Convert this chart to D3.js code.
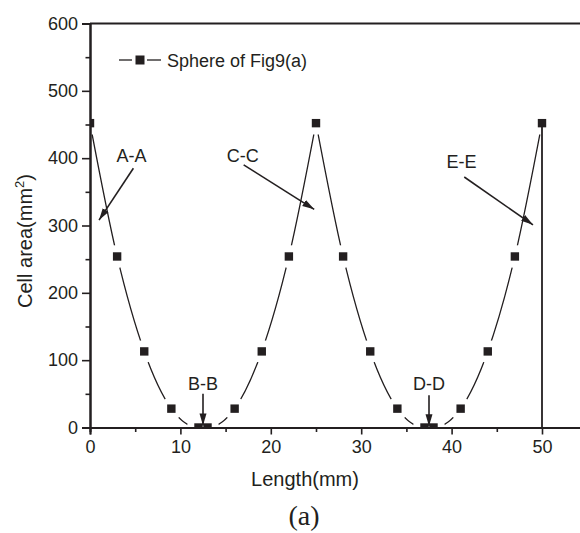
<!DOCTYPE html>
<html>
<head>
<meta charset="utf-8">
<script src="https://cdn.jsdelivr.net/npm/d3@7"></script>
<style>
  html, body { margin: 0; padding: 0; background: #fff; }
  svg { display: block; }
  text { font-family: "Liberation Sans", Arial, sans-serif; fill: #231f20; }
</style>
</head>
<body>
<svg id="chart" width="580" height="533"></svg>
<script>
// ---- data ----
const lengthMm = [0, 3, 6, 9, 12, 13, 16, 19, 22, 25, 28, 31, 34, 37, 38, 41, 44, 47, 50];
const cellArea = [452, 254, 113, 28, 0, 0, 28, 113, 254, 452, 254, 113, 28, 0, 0, 28, 113, 254, 452];
const seriesName = "Sphere of Fig9(a)";
const xTicks = [0, 10, 20, 30, 40, 50];
const yTicks = [0, 100, 200, 300, 400, 500, 600];
const annLabels = ["A-A", "B-B", "C-C", "D-D", "E-E"];
const annLabelX = [4.6, 12.5, 16.9, 37.5, 41.1];
const annLabelY = [395, 55, 395, 55, 386];
const annFromX = [4.8, 12.5, 17.0, 37.5, 41.4];
const annFromY = [385, 50, 390, 48, 372];
const annToX = [1.0, 12.5, 24.8, 37.5, 49.0];
const annToY = [308, 3, 324, 2, 301];

// ---- layout ----
const svg = d3.select("#chart");
const ink = "#231f20";
const x = d3.scaleLinear().domain([0, 55]).range([90, 587.2]);
const y = d3.scaleLinear().domain([0, 600]).range([427.5, 23.5]);

const defs = svg.append("defs");
defs.append("clipPath").attr("id", "plotClip")
  .append("rect").attr("x", x(0)).attr("y", y(600))
  .attr("width", x(55) - x(0)).attr("height", y(0) - y(600));
defs.append("marker").attr("id", "arrow")
  .attr("markerUnits", "userSpaceOnUse")
  .attr("viewBox", "0 0 12 8").attr("refX", 12).attr("refY", 4)
  .attr("markerWidth", 12).attr("markerHeight", 8)
  .attr("orient", "auto")
  .append("path").attr("d", "M0,0.5 L12,4 L0,7.5 Z").attr("fill", ink);

const pts = lengthMm.map((d, i) => ({ x: d, y: cellArea[i] }));
// split the curve at interior peaks so that each peak is a cusp
const peaks = [];
for (let i = 1; i < pts.length - 1; i++) {
  if (pts[i].y > pts[i - 1].y && pts[i].y > pts[i + 1].y) peaks.push(i);
}
const bounds = [0, ...peaks, pts.length - 1];
const segments = [];
for (let k = 0; k < bounds.length - 1; k++) segments.push(pts.slice(bounds[k], bounds[k + 1] + 1));

const plot = svg.append("g").attr("clip-path", "url(#plotClip)");
const line = d3.line().x(d => x(d.x)).y(d => y(d.y)).curve(d3.curveMonotoneX);
plot.selectAll("path.curve").data(segments).join("path")
  .attr("class", "curve")
  .attr("d", line).attr("fill", "none").attr("stroke", ink).attr("stroke-width", 1.3);
// gaps around symbols
plot.selectAll("circle.gap").data(pts).join("circle")
  .attr("class", "gap")
  .attr("cx", d => x(d.x)).attr("cy", d => y(d.y)).attr("r", 11.5).attr("fill", "#fff");

// drop line at last point
const last = pts[pts.length - 1];
svg.append("line")
  .attr("x1", x(last.x)).attr("x2", x(last.x))
  .attr("y1", y(last.y)).attr("y2", y(0))
  .attr("stroke", ink).attr("stroke-width", 1.8);

// ---- axes ----
const fontTick = 18;
const xAxis = svg.append("g").attr("transform", `translate(0,${y(0)})`);
xAxis.call(d3.axisBottom(x).tickValues(xTicks).tickSize(7).tickPadding(6).tickFormat(d3.format("d")));
const xMinor = svg.append("g").attr("transform", `translate(0,${y(0)})`);
xMinor.call(d3.axisBottom(x).tickValues([5, 15, 25, 35, 45]).tickSize(4.5).tickFormat(""));
const yAxis = svg.append("g").attr("transform", `translate(${x(0)},0)`);
yAxis.call(d3.axisLeft(y).tickValues(yTicks).tickSize(8).tickPadding(4).tickFormat(d3.format("d")));
const yMinor = svg.append("g").attr("transform", `translate(${x(0)},0)`);
yMinor.call(d3.axisLeft(y).tickValues([50, 150, 250, 350, 450, 550]).tickSize(4.5).tickFormat(""));
[xAxis, xMinor, yAxis, yMinor].forEach(g => {
  g.select(".domain").attr("stroke", ink).attr("stroke-width", 2);
  g.selectAll(".tick line").attr("stroke", ink).attr("stroke-width", 1.6);
  g.selectAll(".tick text").attr("font-size", fontTick)
    .attr("font-family", "Liberation Sans, Arial, sans-serif").attr("fill", ink);
});
// top frame
svg.append("line").attr("x1", x(0)).attr("x2", x(55)).attr("y1", y(600)).attr("y2", y(600))
  .attr("stroke", ink).attr("stroke-width", 2);

// ---- symbols ----
plot.selectAll("rect.sym").data(pts).join("rect")
  .attr("class", "sym")
  .attr("x", d => x(d.x) - 4.2).attr("y", d => y(d.y) - 4.2)
  .attr("width", 8.4).attr("height", 8.4).attr("fill", ink);

// ---- annotations ----
const ann = annLabels.map((t, i) => ({ t, lx: annLabelX[i], ly: annLabelY[i], fx: annFromX[i], fy: annFromY[i], tx: annToX[i], ty: annToY[i] }));
svg.selectAll("line.ann").data(ann).join("line")
  .attr("class", "ann")
  .attr("x1", d => x(d.fx)).attr("y1", d => y(d.fy))
  .attr("x2", d => x(d.tx)).attr("y2", d => y(d.ty))
  .attr("stroke", ink).attr("stroke-width", 1.6).attr("marker-end", "url(#arrow)");
svg.selectAll("text.ann").data(ann).join("text")
  .attr("class", "ann")
  .attr("x", d => x(d.lx)).attr("y", d => y(d.ly))
  .attr("text-anchor", "middle").attr("font-size", 18).text(d => d.t);

// ---- legend ----
const lg = svg.append("g").attr("transform", "translate(119,60)");
lg.append("line").attr("x1", 0).attr("x2", 13).attr("y1", 0).attr("y2", 0)
  .attr("stroke", ink).attr("stroke-width", 1.3);
lg.append("line").attr("x1", 28).attr("x2", 42).attr("y1", 0).attr("y2", 0)
  .attr("stroke", ink).attr("stroke-width", 1.3);
lg.append("rect").attr("x", 21 - 4.5).attr("y", -4.5).attr("width", 9).attr("height", 9)
  .attr("fill", ink);
lg.append("text").attr("x", 48).attr("y", 6.5).attr("font-size", 18).text(seriesName);

// ---- titles ----
svg.append("text").attr("x", 305).attr("y", 486).attr("text-anchor", "middle")
  .attr("font-size", 20).text("Length(mm)");
const yt = svg.append("text").attr("transform", "translate(32,241) rotate(-90)")
  .attr("text-anchor", "middle").attr("font-size", 20);
yt.append("tspan").text("Cell area(mm");
yt.append("tspan").attr("font-size", 13).attr("dy", -8).text("2");
yt.append("tspan").attr("dy", 8).text(")");
svg.append("text").attr("x", 304).attr("y", 525).attr("text-anchor", "middle")
  .style("font-family", "'Liberation Serif', 'Times New Roman', serif")
  .attr("font-size", 28).text("(a)");
</script>
</body>
</html>
